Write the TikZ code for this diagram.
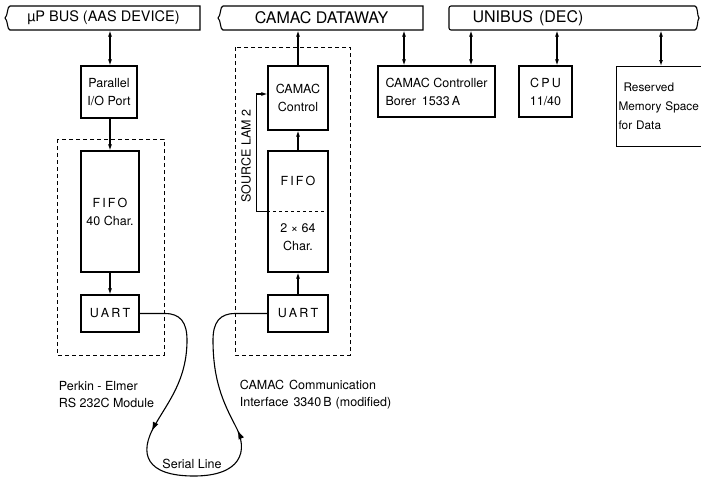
\documentclass[tikz,border=0pt]{standalone}
\usepackage{fontspec}
\setmainfont{TeX Gyre Heros}
\usetikzlibrary{arrows.meta,decorations.markings}

\begin{document}
\begin{tikzpicture}[x=1pt,y=-1pt,>={Latex[length=6pt,width=4pt]},line width=1.1pt,
		every node/.style={font=\fontsize{12.5}{18}\selectfont},
		box/.style={draw,rectangle,align=center,inner sep=2pt},
		bus/.style={rectangle,minimum height=24,inner sep=0,font=\fontsize{16}{18}\selectfont},
		module/.style={dash pattern=on 4pt off 3pt,line width=0.9pt},
		note/.style={align=left,anchor=west,font=\fontsize{12.5}{17}\selectfont}]
		\clip (0,0) rectangle (701,477);

		% buses
		\node[bus,minimum width=193,font=\fontsize{14.5}{18}\selectfont] (upbus) at (103.5,18) {µP BUS (AAS DEVICE)};
		\node[bus,minimum width=203] (dataway) at (321.5,18) {CAMAC DATAWAY};
		\node[bus,anchor=west,inner xsep=23,text width=204,align=left] (unibus) at (449,18) {UNIBUS\hspace{6pt}(DEC)};
		\draw (10,6) -- (200,6) -- (200,30) -- (10,30) .. controls (7,30) and (8,20) .. (5,18) .. controls (8,16) and (7,6) .. (10,6);
		\draw (223,6) -- (423,6) -- (423,30) -- (223,30) .. controls (220,30) and (221,20) .. (218,18) .. controls (221,16) and (220,6) .. (223,6);
		\draw[rounded corners=2pt] (695,6) -- (449,6) -- (449,30) -- (695,30);
		\draw (695,30) .. controls (698,30) and (697,20) .. (699,18) .. controls (697,16) and (698,6) .. (695,6);

		% Perkin-Elmer module
		\draw[module] (57,139) rectangle (164,355);
		\node[box,minimum width=56,minimum height=52] (par) at (109,92) {Parallel\\I/O Port};
		\node[box,minimum width=58,minimum height=121] (fifoL) at (110,211.5) {F\,I\,F\,O\\40 Char.};
		\node[box,minimum width=58,minimum height=37] (uartL) at (110,313.5) {U\,A\,R\,T};
		\node[note] (pe) at (55,394.5) {Perkin - Elmer\\RS 232C Module};

		% CAMAC interface
		\draw[module] (235,47) rectangle (350,355);
		\node[box,minimum width=60,minimum height=64] (ctrl) at (298,98) {CAMAC\\Control};
		\node[box,minimum width=60,minimum height=121] (fifoR) at (298,211.5) {};
		\node (fifoRa) at (298,181) {F\,I\,F\,O};
		\node[align=center] (fifoRb) at (298,237) {2 × 64\\Char.};
		\node[box,minimum width=60,minimum height=37] (uartR) at (298,313.5) {U\,A\,R\,T};
		\node[rotate=90] (lam) at (246,156) {SOURCE LAM 2};
		\node[note] (cci) at (236,394.5) {CAMAC\hspace{5pt}Communication\\Interface\hspace{5pt}3340\,B\hspace{4pt}(modified)};
		\draw[dashed,line width=0.9pt] (fifoR.west) -- (fifoR.east);

		% PDP-11 side
		\node[box,minimum width=117,minimum height=51,align=left] (cc) at (436.5,91.5) {CAMAC Controller\\Borer\hspace{6pt}1533\,A};
		\node[box,minimum width=53,minimum height=51] (cpu) at (545.5,91.5) {C\,P\,U\\11/40};
		\node[box,anchor=north west,text width=100,minimum height=80,align=left,inner xsep=2pt,
			font=\fontsize{11.8}{19}\selectfont] (mem) at (616,66) {\hspace{5pt}Reserved\\Memory Space\\for Data};

		\node (serial) at (192,464) {Serial Line};

		\coordinate (xa) at (404,0);
		\coordinate (xb) at (471,0);
		\coordinate (xc) at (557,0);
		\coordinate (xd) at (661,0);

		\draw[<->] (upbus.south -| fifoL) -- (par.north -| fifoL);
		\draw[->] (par.south -| fifoL) -- (fifoL);
		\draw[->] (fifoL) -- (uartL);
		\draw[->] (uartR) -- (fifoR);
		\draw[->] (fifoR) -- (ctrl);
		\draw[->] (ctrl) -- (ctrl |- dataway.south);
		\draw[->] (fifoR.west) -- ++(-11,0) |- ([yshift=4]ctrl.west);
		\draw[<->] (dataway.south -| xa) -- (cc.north -| xa);
		\draw[<->] (unibus.south -| xb) -- (cc.north -| xb);
		\draw[<->] (unibus.south -| xc) -- (cpu.north -| xc);
		\draw[<->] (unibus.south -| xd) -- (mem.north -| xd);

		% serial line
		\draw[postaction={decorate},decoration={markings,
				mark=at position 0.335 with {\arrow{Latex[length=9pt,width=6pt]}},
				mark=at position 0.66 with {\arrow{Latex[length=9pt,width=6pt]}}}]
			(uartL.east) -- (165,313.5)
			.. controls (180,313.5) and (187,322) .. (187,340)
			.. controls (187,380) and (168,402) .. (155,425)
			.. controls (138,454) and (146,476) .. (194,476)
			.. controls (240,476) and (250,452) .. (235,425)
			.. controls (223,402) and (213,380) .. (213,340)
			.. controls (213,322) and (220,313.5) .. (235,313.5)
			-- (uartR.west);
	\end{tikzpicture}
\end{document}
